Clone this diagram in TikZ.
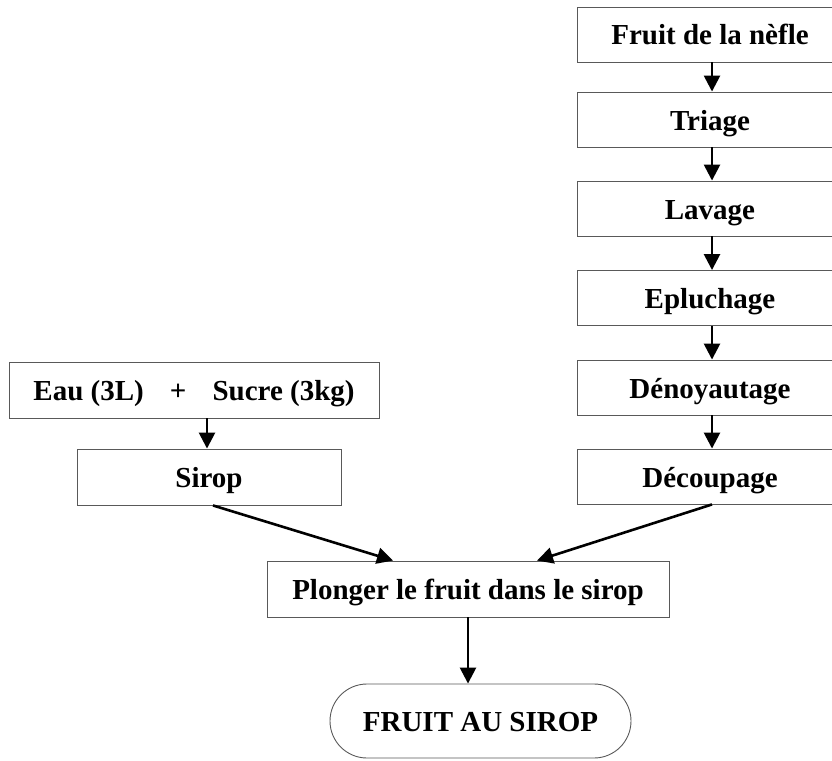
\documentclass[tikz,border=0pt]{standalone}
\usepackage{fontspec}
\setmainfont{Liberation Serif}
\usetikzlibrary{arrows.meta}
\begin{document}
\begin{tikzpicture}[x=1pt,y=-1pt,
  box/.style={draw=black!65,line width=0.9pt,rectangle,inner sep=0pt,
    text height=24pt,text depth=3pt,
    font=\fontsize{29}{34}\selectfont\bfseries,text=black},
  colbox/.style={box,minimum width=266pt,minimum height=55pt},
  arr/.style={line width=2.6pt,-{Triangle[length=16pt,width=16pt]}}]
\path[use as bounding box,clip] (0,0) rectangle (832,760);
% right column
\node[colbox] (fruit) at (710,34.5) {Fruit de la nèfle};
\node[colbox] (triage) at (710,119.5) {Triage};
\node[colbox] (lavage) at (710,208.5) {Lavage};
\node[colbox] (eplu) at (710,298) {Epluchage};
\node[colbox] (deno) at (710,387.5) {Dénoyautage};
\node[colbox] (decoup) at (710,476.5) {Découpage};
% left column
\node[box,minimum width=370pt,minimum height=56pt] (eau) at (194,390) {Eau (3L)\hspace{0.9em}+\hspace{0.9em}Sucre (3kg)};
\node[box,minimum width=264pt,minimum height=56pt] (sirop) at (209,477) {Sirop};
% merge
\node[box,minimum width=402pt,minimum height=56pt] (plonger) at (468,589) {Plonger le fruit dans le sirop};
\node[box,minimum width=301pt,minimum height=74pt,rounded corners=37pt] (final) at (480.5,721) {FRUIT AU SIROP};
% arrows
\foreach \a/\b in {fruit/triage,triage/lavage,lavage/eplu,eplu/deno,deno/decoup}
  \draw[arr] ([xshift=2pt]\a.south) -- ([xshift=2pt]\b.north);
\draw[arr] ([xshift=13pt]eau.south) -- ([xshift=13pt]eau.south |- sirop.north);
\draw[arr] ([xshift=4pt]sirop.south) -- ([xshift=-75pt]plonger.north);
\draw[arr] ([xshift=2pt]decoup.south) -- ([xshift=69pt]plonger.north);
\draw[arr] (plonger.south) -- (plonger.south |- final.north);
\end{tikzpicture}
\end{document}
